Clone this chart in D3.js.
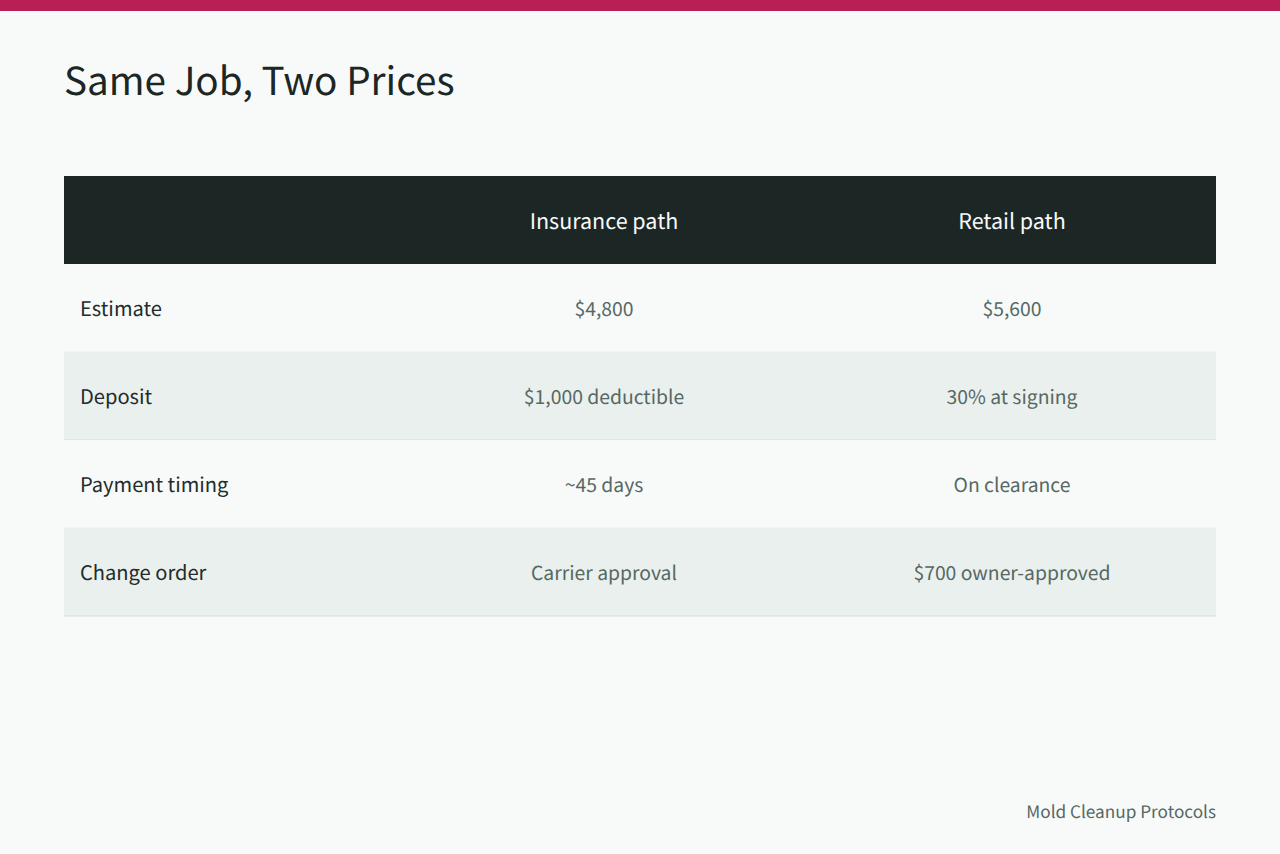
<!DOCTYPE html>
<html>
<head>
<meta charset="utf-8">
<script src="https://d3js.org/d3.v7.min.js"></script>
<style>
  html, body { margin: 0; padding: 0; background: #f7faf9; }
  svg { display: block; }
  text { font-family: "Noto Sans CJK SC", "Noto Sans", sans-serif; text-rendering: geometricPrecision; }
</style>
</head>
<body>
<div id="chart"></div>
<script>
const title = "Same Job, Two Prices";
const footer = "Mold Cleanup Protocols";
const columns = ["", "Insurance path", "Retail path"];
const rowLabels = ["Estimate", "Deposit", "Payment timing", "Change order"];
const insurancePath = ["$4,800", "$1,000 deductible", "~45 days", "Carrier approval"];
const retailPath = ["$5,600", "30% at signing", "On clearance", "$700 owner-approved"];

const width = 1280;
const height = 854;

const svg = d3.select("#chart").append("svg")
  .attr("width", width)
  .attr("height", height);

svg.append("rect")
  .attr("width", width)
  .attr("height", height)
  .attr("fill", "#f7faf9");

svg.append("rect")
  .attr("width", width)
  .attr("height", 11)
  .attr("fill", "#b91f54");

svg.append("text")
  .attr("x", 64)
  .attr("y", 94.5)
  .attr("font-size", 38.65)
  .attr("fill", "#1c2625")
  .text(title);

// column bands: label column, then the two value columns
const x = d3.scaleOrdinal().domain(columns).range([64, 400, 808]);
const colWidth = 408;
const headerTop = 176;
const headerHeight = 88;
const rowHeight = 88;

const y = d3.scaleBand()
  .domain(rowLabels)
  .range([headerTop + headerHeight, headerTop + headerHeight + rowHeight * rowLabels.length]);

svg.append("rect")
  .attr("x", 64)
  .attr("y", headerTop)
  .attr("width", 1152)
  .attr("height", headerHeight)
  .attr("fill", "#1c2625");

svg.selectAll(".head")
  .data(columns.slice(1))
  .join("text")
  .attr("class", "head")
  .attr("x", (d) => x(d) + colWidth / 2)
  .attr("y", headerTop + headerHeight / 2 + 9)
  .attr("text-anchor", "middle")
  .attr("font-size", 21.5)
  .attr("fill", "#f7faf9")
  .text((d) => d);

const rows = svg.selectAll(".row")
  .data(rowLabels)
  .join("g")
  .attr("class", "row")
  .attr("transform", (d) => `translate(0,${y(d)})`);

rows.append("rect")
  .attr("x", 64)
  .attr("width", 1152)
  .attr("height", rowHeight)
  .attr("fill", (d, i) => (i % 2 ? "#eaf0ee" : "#f7faf9"));

rows.append("line")
  .attr("x1", 64)
  .attr("x2", 1216)
  .attr("y1", rowHeight)
  .attr("y2", rowHeight)
  .attr("stroke", (d, i) => (i % 2 ? "#d9dfde" : "#eaf0ee"));

rows.append("text")
  .attr("x", 80)
  .attr("y", rowHeight / 2 + 8.4)
  .attr("font-size", 20.1)
  .attr("fill", "#222c2b")
  .text((d) => d);

rows.append("text")
  .attr("x", x(columns[1]) + colWidth / 2)
  .attr("y", rowHeight / 2 + 8.4)
  .attr("text-anchor", "middle")
  .attr("font-size", 19.35)
  .attr("fill", "#566863")
  .text((d, i) => insurancePath[i]);

rows.append("text")
  .attr("x", x(columns[2]) + colWidth / 2)
  .attr("y", rowHeight / 2 + 8.4)
  .attr("text-anchor", "middle")
  .attr("font-size", 19.35)
  .attr("fill", "#566863")
  .text((d, i) => retailPath[i]);

svg.append("text")
  .attr("x", 1216)
  .attr("y", 818.4)
  .attr("text-anchor", "end")
  .attr("font-size", 17.2)
  .attr("fill", "#566863")
  .text(footer);
</script>
</body>
</html>
